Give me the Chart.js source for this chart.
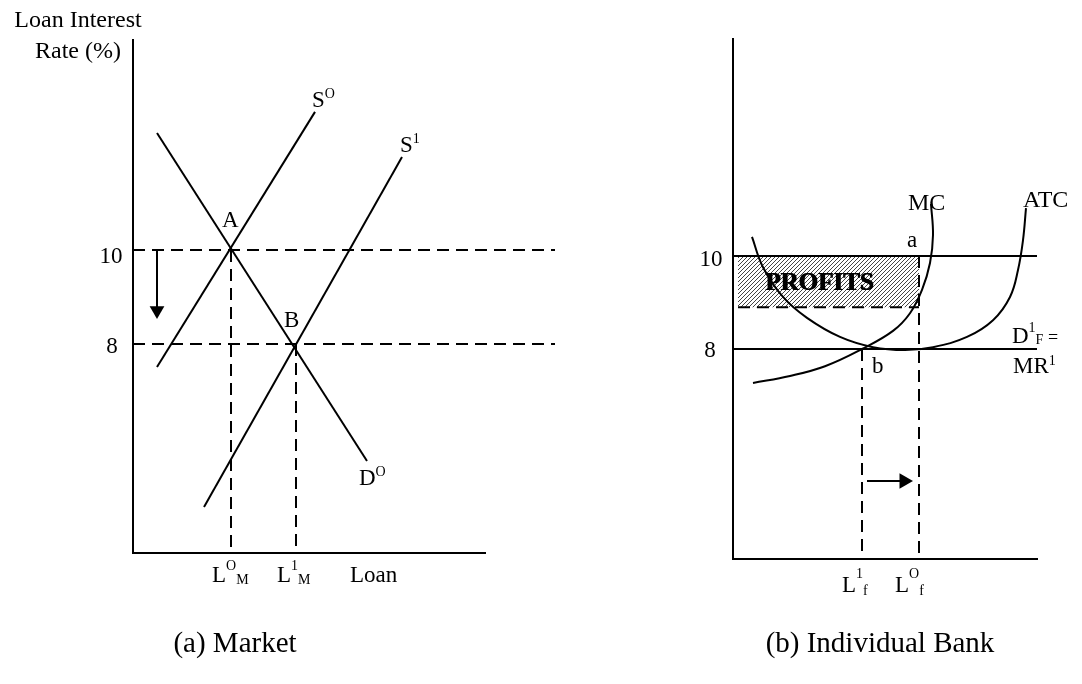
<!DOCTYPE html>
<html>
<head>
<meta charset="utf-8">
<title>Loan market and individual bank</title>
<script src="https://cdn.jsdelivr.net/npm/chart.js@4.4.1/dist/chart.umd.min.js"></script>
<style>
  html, body { margin: 0; padding: 0; background: #fff; }
  #wrap { position: relative; width: 1082px; height: 684px; }
  #wrap canvas { position: absolute; top: 0; }
</style>
</head>
<body>
<div id="wrap">
  <canvas id="market" width="620" height="684" style="left:0"></canvas>
  <canvas id="bank" width="462" height="684" style="left:620px"></canvas>
</div>
<script>
// ---- (a) Market : values (x = loans, y = rate %) ----
const rateHigh = 10;
const rateLow = 8;
const loanA = 9.8;                 // L^O_M
const loanB = 16.3;                // L^1_M
const supply0 = [{x: 2.4, y: 7.51}, {x: 18.2, y: 12.94}];
const supply1 = [{x: 7.1, y: 4.53}, {x: 26.9, y: 11.98}];
const demand0 = [{x: 2.4, y: 12.49}, {x: 23.4, y: 5.51}];
const rateArrow = [{x: 2.4, y: 10}, {x: 2.4, y: 8.71}];
const marketX = [0, 35.2];
const marketY = [3.55, 14.47];
const marketDashEnd = 42.2;

// ---- (b) Individual bank ----
const bankProfitFloor = 8.9;
const loanF1 = 12.9;               // L^1_f
const loanF0 = 18.6;               // L^O_f
const mcCurve = [
  {x: 2.0, y: 7.27}, {x: 5.7, y: 7.42}, {x: 9.2, y: 7.63}, {x: 12.9, y: 8.0},
  {x: 16.0, y: 8.39}, {x: 17.7, y: 8.77}, {x: 18.9, y: 9.27}, {x: 19.7, y: 9.85},
  {x: 20.0, y: 10.45}, {x: 19.8, y: 11.12}
];
const atcCurve = [
  {x: 1.9, y: 10.41}, {x: 3.0, y: 9.76}, {x: 5.0, y: 9.12}, {x: 7.4, y: 8.67},
  {x: 10.7, y: 8.26}, {x: 14.0, y: 8.04}, {x: 17.2, y: 7.98}, {x: 20.0, y: 8.04},
  {x: 23.4, y: 8.26}, {x: 26.0, y: 8.62}, {x: 27.7, y: 9.12}, {x: 28.5, y: 9.70},
  {x: 29.0, y: 10.34}, {x: 29.3, y: 11.03}
];
const loanArrow = [{x: 13.4, y: 5.16}, {x: 17.1, y: 5.16}];
const bankX = [0, 30.4];
const bankY = [3.484, 14.667];

const ink = '#000';
const serif = '"Liberation Serif", "Times New Roman", serif';
const dash = [12, 7];

function seg(data, extra) {
  return Object.assign({
    data: data, showLine: true, borderColor: ink, borderWidth: 2,
    pointRadius: 0, fill: false, clip: false, tension: 0
  }, extra || {});
}

function arrow(data, rot, r) {
  return seg(data, {
    pointRadius: [0, r], pointStyle: 'triangle', rotation: rot,
    pointBackgroundColor: ink, pointBorderColor: ink, pointBorderWidth: 0
  });
}

function hatch() {
  const c = document.createElement('canvas');
  c.width = 4; c.height = 4;
  const g = c.getContext('2d');
  g.fillStyle = '#fff';
  g.fillRect(0, 0, 4, 4);
  g.strokeStyle = '#444';
  g.lineWidth = 1;
  g.beginPath();
  g.moveTo(0, 4); g.lineTo(4, 0);
  g.moveTo(-1, 1); g.lineTo(1, -1);
  g.moveTo(3, 5); g.lineTo(5, 3);
  g.stroke();
  return g.createPattern(c, 'repeat');
}

// text annotations, parts = [text, size, dy]
function notesPlugin(notes) {
  return {
    id: 'notes',
    afterDatasetsDraw(chart) {
      const ctx = chart.ctx;
      const xs = chart.scales.x, ys = chart.scales.y;
      ctx.save();
      ctx.fillStyle = ink;
      ctx.textBaseline = 'alphabetic';
      ctx.textAlign = 'left';
      notes.forEach(n => {
        const runs = n.parts.map(p => ({
          text: p[0], dy: p[2] || 0,
          font: (n.bold ? 'bold ' : '') + (p[1] || n.size || 23) + 'px ' + serif
        }));
        let total = 0;
        runs.forEach(r => { ctx.font = r.font; r.w = ctx.measureText(r.text).width; total += r.w; });
        let px = xs.getPixelForValue(n.x);
        const py = ys.getPixelForValue(n.y);
        if (n.align === 'center') px -= total / 2;
        runs.forEach(r => {
          ctx.font = r.font;
          ctx.fillText(r.text, px, py + r.dy);
          if (n.heavy) ctx.fillText(r.text, px + 1, py + r.dy);
          px += r.w;
        });
      });
      ctx.restore();
    }
  };
}

function options(xr, yr, pad) {
  return {
    responsive: false,
    animation: false,
    layout: { padding: pad },
    plugins: { legend: { display: false }, tooltip: { enabled: false } },
    scales: {
      x: {
        type: 'linear', min: xr[0], max: xr[1],
        grid: { display: false }, ticks: { display: false },
        border: { display: true, color: ink, width: 2 },
        afterFit(s) { s.height = 0; }
      },
      y: {
        type: 'linear', min: yr[0], max: yr[1],
        grid: { display: false }, ticks: { display: false },
        border: { display: true, color: ink, width: 2 },
        afterFit(s) { s.width = 0; }
      }
    }
  };
}

const marketNotes = [
  {x: -5.5, y: 14.74, parts: [['Loan Interest']], size: 24, align: 'center'},
  {x: -5.5, y: 14.09, parts: [['Rate (%)']], size: 24, align: 'center'},
  {x: -2.2, y: 9.72, parts: [['10']], align: 'center'},
  {x: -2.1, y: 7.81, parts: [['8']], align: 'center'},
  {x: 8.9, y: 10.49, parts: [['A']]},
  {x: 15.1, y: 8.36, parts: [['B']]},
  {x: 17.9, y: 13.04, parts: [['S'], ['O', 14, -9]]},
  {x: 26.7, y: 12.09, parts: [['S'], ['1', 14, -9]]},
  {x: 22.6, y: 5.0, parts: [['D'], ['O', 14, -9]]},
  {x: 7.9, y: 2.94, parts: [['L'], ['O', 14, -12], ['M', 14, 2]]},
  {x: 14.4, y: 2.94, parts: [['L'], ['1', 14, -12], ['M', 14, 2]]},
  {x: 21.7, y: 2.94, parts: [['Loan']]},
  {x: 10.2, y: 1.45, parts: [['(a) Market']], size: 29, align: 'center'}
];

const bankNotes = [
  {x: -2.2, y: 9.78, parts: [['10']], align: 'center'},
  {x: -2.3, y: 7.83, parts: [['8']], align: 'center'},
  {x: 17.5, y: 10.99, parts: [['MC']], size: 24},
  {x: 29.0, y: 11.05, parts: [['ATC']], size: 24},
  {x: 17.4, y: 10.19, parts: [['a']]},
  {x: 13.9, y: 7.48, parts: [['b']]},
  {x: 3.2, y: 9.27, parts: [['PROFITS']], size: 25, bold: true, heavy: true},
  {x: 27.9, y: 8.13, parts: [['D'], ['1', 14, -11], ['F', 14, 1], [' =', 18, 0]]},
  {x: 28.0, y: 7.48, parts: [['MR'], ['1', 14, -8]]},
  {x: 10.9, y: 2.77, parts: [['L'], ['1', 14, -14], ['f', 14, 3]]},
  {x: 16.2, y: 2.77, parts: [['L'], ['O', 14, -14], ['f', 14, 3]]},
  {x: 14.7, y: 1.48, parts: [['(b) Individual Bank']], size: 29, align: 'center'}
];

new Chart(document.getElementById('market').getContext('2d'), {
  type: 'scatter',
  data: {
    datasets: [
      seg(supply0), seg(supply1), seg(demand0),
      arrow(rateArrow, 180, 8.5),
      seg([{x: marketX[0], y: rateHigh}, {x: marketDashEnd, y: rateHigh}], {borderDash: dash}),
      seg([{x: marketX[0], y: rateLow}, {x: marketDashEnd, y: rateLow}], {borderDash: dash}),
      seg([{x: loanA, y: rateHigh}, {x: loanA, y: marketY[0]}], {borderDash: dash}),
      seg([{x: loanB, y: rateLow}, {x: loanB, y: marketY[0]}], {borderDash: dash})
    ]
  },
  options: options(marketX, marketY, {left: 133, right: 135, top: 40, bottom: 131}),
  plugins: [notesPlugin(marketNotes)]
});

new Chart(document.getElementById('bank').getContext('2d'), {
  type: 'scatter',
  data: {
    datasets: [
      seg(mcCurve, {tension: 0.4}),
      seg(atcCurve, {tension: 0.4}),
      arrow(loanArrow, 90, 9),
      seg([{x: bankX[0], y: rateHigh}, {x: bankX[1], y: rateHigh}]),
      seg([{x: bankX[0], y: rateLow}, {x: bankX[1], y: rateLow}]),
      seg([{x: 0.5, y: bankProfitFloor}, {x: loanF0, y: bankProfitFloor}], {borderDash: dash}),
      seg([{x: loanF0, y: rateHigh}, {x: loanF0, y: bankY[0]}], {borderDash: dash}),
      seg([{x: loanF1, y: rateLow}, {x: loanF1, y: bankY[0]}], {borderDash: dash}),
      seg([{x: 0.5, y: rateHigh}, {x: loanF0, y: rateHigh}], {
        borderWidth: 0, fill: {value: bankProfitFloor}, backgroundColor: hatch()
      })
    ]
  },
  options: options(bankX, bankY, {left: 113, right: 45, top: 39, bottom: 125}),
  plugins: [notesPlugin(bankNotes)]
});
</script>
</body>
</html>
